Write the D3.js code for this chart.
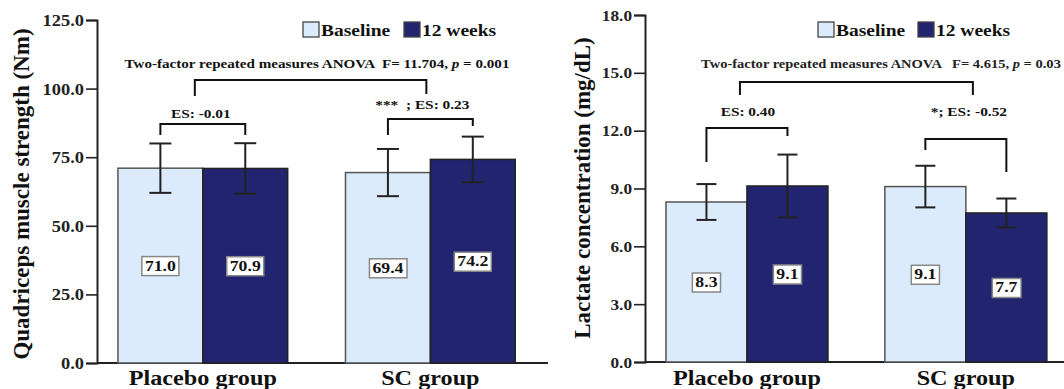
<!DOCTYPE html>
<html>
<head>
<meta charset="utf-8">
<script src="https://cdn.jsdelivr.net/npm/d3@7"></script>
<style>
  body { margin: 0; background: #fff; }
  svg { display: block; font-family: "Liberation Serif", "Times New Roman", serif; }
</style>
</head>
<body>
<svg id="chart" width="1064" height="389"></svg>
<script>
const groups = ['Placebo group', 'SC group']
const series = ['Baseline', '12 weeks']
const colors = ['#dcebfb', '#22246f']

// left panel: quadriceps strength, [group][series]
const strengthMean = [[71.0, 70.9], [69.4, 74.2]]
const strengthSD = [[9.0, 9.2], [8.6, 8.3]]
const strengthTicks = [0, 25, 50, 75, 100, 125]

// right panel: lactate
const lactateMean = [[8.3, 9.13], [9.1, 7.73]]
const lactateSD = [[0.93, 1.63], [1.08, 0.75]]
const lactateTicks = [0, 3, 6, 9, 12, 15, 18]

const svg = d3.select('#chart')
const WIDE = 1.18 // the source figure's lettering is a bit wider than Times

// widen text horizontally, keeps the anchor
function widen(sel, k = WIDE) {
  sel.each(function() {
    const len = this.getComputedTextLength()
    d3.select(this).attr('textLength', len * k).attr('lengthAdjust', 'spacingAndGlyphs')
  })
  return sel
}

function drawPanel(p) {
  const g = svg.append('g')
  const y = d3.scaleLinear().domain([0, p.max]).range([p.y0, p.y1])
  const x = d3.scaleBand().domain(groups).range([p.axisX, p.axisEnd])
    .paddingInner(p.padIn).paddingOuter(p.padOut).align(p.align)
  const xs = d3.scaleBand().domain(series).range([0, x.bandwidth()])

  // y axis
  const ya = g.append('g')
    .attr('transform', `translate(${p.axisX},0)`)
    .call(d3.axisLeft(y).tickValues(p.ticks).tickSize(11).tickPadding(2)
      .tickFormat(d => d.toFixed(1)))
    .attr('font-family', null).attr('font-size', null)
  ya.select('.domain').attr('stroke', '#222').attr('stroke-width', 2)
  ya.selectAll('.tick line').attr('stroke', '#222').attr('stroke-width', 1.6)
  ya.selectAll('.tick text').attr('fill', '#222').attr('font-weight', 'bold')
    .attr('font-size', p.tickSize).attr('dy', '0.34em')
  widen(ya.selectAll('.tick text'), 1.15)

  // x axis line + labels
  g.append('line')
    .attr('x1', p.axisX).attr('x2', p.axisEnd)
    .attr('y1', y(0)).attr('y2', y(0))
    .attr('stroke', '#222').attr('stroke-width', 2)
  widen(g.selectAll('.xlab').data(groups).enter().append('text')
    .attr('x', d => x(d) + x.bandwidth() / 2)
    .attr('y', 385)
    .attr('text-anchor', 'middle')
    .attr('font-size', 20.5).attr('font-weight', 'bold').attr('fill', '#111')
    .text(d => d))

  // y title
  g.append('text')
    .attr('transform', `translate(${p.titleX},${p.titleY}) rotate(-90)`)
    .attr('text-anchor', 'middle')
    .attr('font-size', 23).attr('font-weight', 'bold').attr('fill', '#111')
    .text(p.title)

  const cells = []
  groups.forEach((grp, gi) => series.forEach((s, si) => {
    cells.push({grp, s, si, mean: p.mean[gi][si], sd: p.sd[gi][si],
      cx: x(grp) + xs(s) + xs.bandwidth() / 2})
  }))

  // bars
  g.selectAll('.bar').data(cells).enter().append('rect')
    .attr('x', d => x(d.grp) + xs(d.s))
    .attr('width', xs.bandwidth())
    .attr('y', d => y(d.mean))
    .attr('height', d => y(0) - y(d.mean))
    .attr('fill', d => colors[d.si])
    .attr('stroke', d => d.si ? '#222' : '#555')
    .attr('stroke-width', 1.5)

  // error bars
  const eb = g.selectAll('.err').data(cells).enter().append('g')
  eb.append('line')
    .attr('x1', d => d.cx).attr('x2', d => d.cx)
    .attr('y1', d => y(d.mean - d.sd)).attr('y2', d => y(d.mean + d.sd))
  eb.append('line')
    .attr('x1', d => d.cx - p.cap).attr('x2', d => d.cx + p.cap)
    .attr('y1', d => y(d.mean + d.sd)).attr('y2', d => y(d.mean + d.sd))
  eb.append('line')
    .attr('x1', d => d.cx - p.cap).attr('x2', d => d.cx + p.cap)
    .attr('y1', d => y(d.mean - d.sd)).attr('y2', d => y(d.mean - d.sd))
  eb.selectAll('line').attr('stroke', '#222').attr('stroke-width', 2)

  // value boxes at half bar height
  cells.forEach(d => {
    const lab = g.append('g')
    const t = lab.append('text')
      .attr('x', d.cx).attr('y', y(d.mean / 2) + 5)
      .attr('text-anchor', 'middle')
      .attr('font-size', 15).attr('font-weight', 'bold').attr('fill', '#111')
      .text(d.mean.toFixed(1))
    widen(t)
    const b = t.node().getBBox()
    lab.insert('rect', 'text')
      .attr('x', b.x - 3).attr('y', b.y - 1)
      .attr('width', b.width + 6).attr('height', b.height + 3)
      .attr('fill', '#fff').attr('stroke', '#888').attr('stroke-width', 1.5)
  })

  // brackets
  const bracket = (x1, x2, yh, l1, l2) => {
    g.append('path')
      .attr('d', `M${x1},${y(l1)}V${y(yh)}H${x2}V${y(l2)}`)
      .attr('fill', 'none').attr('stroke', '#111').attr('stroke-width', 2)
  }
  p.within.forEach((w, gi) => {
    const c0 = cells[gi * 2].cx, c1 = cells[gi * 2 + 1].cx
    bracket(c0, c1, w.h, w.l1, w.l2)
    widen(g.append('text')
      .attr('x', (c0 + c1) / 2 + w.dx).attr('y', y(w.ty) + 5)
      .attr('text-anchor', 'middle')
      .attr('font-size', 13).attr('font-weight', 'bold').attr('fill', '#111')
      .attr('xml:space', 'preserve')
      .text(w.label))
  })
  const gc = groups.map(d => x(d) + x.bandwidth() / 2)
  bracket(gc[0] + p.top.dx0, gc[1] + p.top.dx1, p.top.h, p.top.l1, p.top.l2)
  const at = g.append('text')
    .attr('x', p.top.tx).attr('y', y(p.top.ty) + 4)
    .attr('text-anchor', 'middle')
    .attr('font-size', p.top.size).attr('font-weight', 'bold').attr('fill', p.top.color)
    .attr('xml:space', 'preserve')
  at.append('tspan').text(p.top.label)
  at.append('tspan').attr('font-style', 'italic').text('p')
  at.append('tspan').text(p.top.tail)
  widen(at)

  // legend
  series.forEach((s, i) => {
    const lx = p.legendX[i]
    g.append('rect')
      .attr('x', lx).attr('y', 22).attr('width', 16).attr('height', 15)
      .attr('fill', colors[i]).attr('stroke', '#444').attr('stroke-width', 1.3)
    widen(g.append('text')
      .attr('x', lx + 18).attr('y', 36)
      .attr('font-size', 16.5).attr('font-weight', 'bold').attr('fill', '#111')
      .text(s))
  })
}

drawPanel({
  max: 125, ticks: strengthTicks, mean: strengthMean, sd: strengthSD,
  y0: 363, y1: 20, axisX: 97, axisEnd: 548, tickSize: 16,
  padIn: 0.254, padOut: 0.118, align: 0.39, cap: 11,
  title: 'Quadriceps muscle strength (Nm)', titleX: 29, titleY: 194,
  within: [
    {h: 87.1, l1: 83.1, l2: 83.1, ty: 91.1, dx: -2, label: 'ES: -0.01'},
    {h: 88.9, l1: 83.1, l2: 86.4, ty: 94.4, dx: -8, label: '***  ; ES: 0.23'}
  ],
  top: {h: 103.1, l1: 97.3, l2: 98.0, dx0: -8, dx1: -4, ty: 109, tx: 317, size: 12.8,
    color: '#111', label: 'Two-factor repeated measures ANOVA  F= 11.704, ', tail: ' = 0.001'},
  legendX: [303, 404]
})

drawPanel({
  max: 18, ticks: lactateTicks, mean: lactateMean, sd: lactateSD,
  y0: 362, y1: 15, axisX: 645, axisEnd: 1064, tickSize: 15,
  padIn: 0.26, padOut: 0.087, align: 0.55, cap: 10,
  title: 'Lactate concentration (mg/dL)', titleX: 590, titleY: 188,
  within: [
    {h: 12.14, l1: 10.37, l2: 11.72, ty: 13.0, dx: 1, label: 'ES: 0.40'},
    {h: 11.57, l1: 11.0, l2: 9.85, ty: 13.0, dx: 3, label: '*; ES: -0.52'}
  ],
  top: {h: 14.52, l1: 13.85, l2: 13.85, dx0: -7, dx1: 7, ty: 15.46, tx: 881, size: 12.3,
    color: '#222', label: 'Two-factor repeated measures ANOVA   F= 4.615, ', tail: ' = 0.03'},
  legendX: [818, 918]
})
</script>
</body>
</html>
